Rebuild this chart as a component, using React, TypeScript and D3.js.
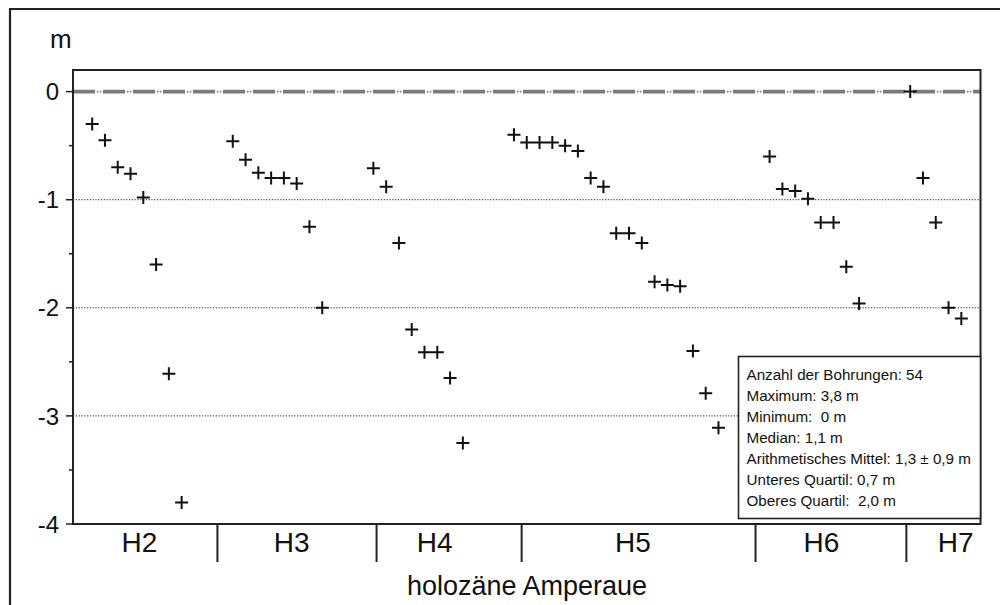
import React from 'react'
import { scaleLinear, range } from 'd3'

// borehole depths per terrace (m below surface, plotted as negative)
const groups = ['H2', 'H3', 'H4', 'H5', 'H6', 'H7']
const h2 = [-0.3, -0.45, -0.7, -0.76, -0.98, -1.6, -2.61, -3.8]
const h3 = [-0.46, -0.63, -0.75, -0.8, -0.8, -0.85, -1.25, -2.0]
const h4 = [-0.71, -0.88, -1.4, -2.2, -2.41, -2.41, -2.65, -3.25]
const h5 = [-0.4, -0.47, -0.47, -0.47, -0.5, -0.55, -0.8, -0.88, -1.31, -1.31, -1.4, -1.76, -1.79, -1.8, -2.4, -2.79, -3.11]
const h6 = [-0.6, -0.9, -0.92, -0.99, -1.21, -1.21, -1.62, -1.96]
const h7 = [0, -0.8, -1.21, -2.0, -2.1]
const depths = [h2, h3, h4, h5, h6, h7]

// empty slots between groups, group separators and label positions (in slot units)
const gap = 3
const separators = [9.8, 22.25, 33.6, 51.9, 63.7]
const labelAt = [3.7, 15.6, 26.8, 42.3, 57.05, 67.55]

const yLabels = [0, -1, -2, -3, -4]
const gridValues = [-1, -2, -3]

const statLines = [
  'Anzahl der Bohrungen: 54',
  'Maximum: 3,8 m',
  'Minimum:  0 m',
  'Median: 1,1 m',
  'Arithmetisches Mittel: 1,3 ± 0,9 m',
  'Unteres Quartil: 0,7 m',
  'Oberes Quartil:  2,0 m',
]

const font = '"Liberation Sans", Arial, sans-serif'

const App = () => {
  const width = 1000
  const height = 605
  const left = 73
  const right = 980.5
  const top = 70
  const bottom = 524

  const x = scaleLinear().domain([-1.5, 69.5]).range([left, right])
  const y = scaleLinear().domain([-4, 0.2]).range([bottom, top])

  const points: { x: number; v: number; k: string }[] = []
  let idx = 0
  depths.forEach((vals, g) => {
    vals.forEach((v, j) => {
      points.push({ x: idx, v, k: `${g}-${j}` })
      idx++
    })
    idx += gap
  })

  const minorTicks = range(-4, 0.01, 0.5)

  const crosses = points.map(p => {
    const cx = x(p.x)
    const cy = y(p.v)
    return (
      <path
        key={p.k}
        d={`M${cx - 6.5},${cy}h13M${cx},${cy - 6.5}v13`}
        stroke='#111'
        strokeWidth={2}
        fill='none'
      />
    )
  })

  const boxX = 738.5
  const boxY = 356.5

  return (
    <svg
      width={width}
      height={height}
      style={{ position: 'fixed', left: 0, top: 0, background: '#fff' }}
      fontFamily={font}
    >
      <rect x={0} y={0} width={width} height={height} fill='#fff' />
      {/* outer frame */}
      <path d={`M10,${height + 5}V9H${width + 5}`} stroke='#222' strokeWidth={2.2} fill='none' />

      <text x={50} y={48} fontSize={26} fill='#111'>m</text>

      {/* grid */}
      {gridValues.map(v => (
        <line key={v} x1={left} x2={right} y1={y(v)} y2={y(v)} stroke='#222' strokeWidth={1} strokeDasharray='1.2 1.6' />
      ))}

      {/* zero line: grey dashes with small dots between */}
      <line x1={left} x2={right} y1={y(0)} y2={y(0)} stroke='#7a7a7a' strokeWidth={3.6} strokeDasharray='22 8' />
      <line x1={left} x2={right} y1={y(0)} y2={y(0)} stroke='#7a7a7a' strokeWidth={1.6} strokeDasharray='0 23.8 1.6 1.4 1.6 1.6' />

      {/* plot frame */}
      <rect x={left} y={top} width={right - left} height={bottom - top} fill='none' stroke='#222' strokeWidth={2} />

      {/* y axis ticks */}
      {minorTicks.map(v => (
        <line key={v} x1={Number.isInteger(v) ? 66 : 69} x2={left} y1={y(v)} y2={y(v)} stroke='#222' strokeWidth={1.5} />
      ))}
      {yLabels.map(v => (
        <text key={v} x={59} y={y(v)} dy='0.36em' textAnchor='end' fontSize={24} fill='#111'>
          {v === 0 ? '0' : `-${Math.abs(v)}`}
        </text>
      ))}

      {/* x axis categories */}
      {separators.map(s => (
        <line key={s} x1={x(s)} x2={x(s)} y1={bottom} y2={562} stroke='#222' strokeWidth={2} />
      ))}
      {groups.map((g, i) => (
        <text key={g} x={x(labelAt[i])} y={552} textAnchor='middle' fontSize={28} fill='#111'>{g}</text>
      ))}
      <text x={527} y={595} textAnchor='middle' fontSize={27} fill='#111'>holozäne Amperaue</text>

      {crosses}

      {/* statistics box */}
      <rect x={boxX} y={boxY} width={right - boxX} height={518.5 - boxY} fill='#fff' stroke='#222' strokeWidth={1.6} />
      {statLines.map((t, i) => (
        <text key={i} x={746.5} y={380 + i * 21} fontSize={15.2} fill='#111' style={{ whiteSpace: 'pre' }}>{t}</text>
      ))}
    </svg>
  )
}

export default App
